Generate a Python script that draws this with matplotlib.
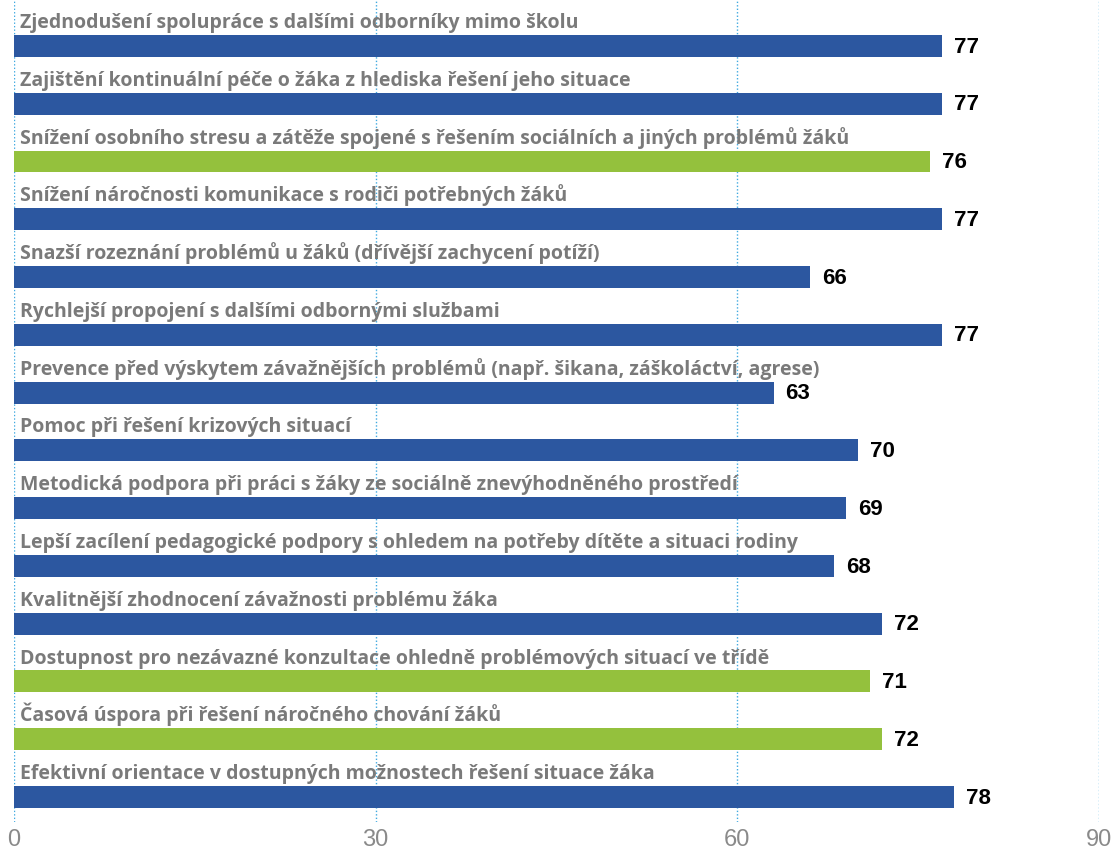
import numpy as np
import matplotlib.pyplot as plt

# Data
labels = [
    "Zjednodušení spolupráce s dalšími odborníky mimo školu",
    "Zajištění kontinuální péče o žáka z hlediska řešení jeho situace",
    "Snížení osobního stresu a zátěže spojené s řešením sociálních a jiných problémů žáků",
    "Snížení náročnosti komunikace s rodiči potřebných žáků",
    "Snazší rozeznání problémů u žáků (dřívější zachycení potíží)",
    "Rychlejší propojení s dalšími odbornými službami",
    "Prevence před výskytem závažnějších problémů (např. šikana, záškoláctví, agrese)",
    "Pomoc při řešení krizových situací",
    "Metodická podpora při práci s žáky ze sociálně znevýhodněného prostředí",
    "Lepší zacílení pedagogické podpory s ohledem na potřeby dítěte a situaci rodiny",
    "Kvalitnější zhodnocení závažnosti problému žáka",
    "Dostupnost pro nezávazné konzultace ohledně problémových situací ve třídě",
    "Časová úspora při řešení náročného chování žáků",
    "Efektivní orientace v dostupných možnostech řešení situace žáka",
]
values = [77, 77, 76, 77, 66, 77, 63, 70, 69, 68, 72, 71, 72, 78]
highlight = [False, False, True, False, False, False, False,
             False, False, False, False, True, True, False]

BLUE = "#2c57a0"
GREEN = "#94c13d"
GREY = "#7a7a7a"

fig = plt.figure(figsize=(11.12, 8.52), dpi=100)
ax = fig.add_axes([14 / 1112, 30 / 852, 1085 / 1112, 822 / 852])

y = np.arange(len(values))
colors = [GREEN if h else BLUE for h in highlight]
ax.barh(y, values, height=0.38, color=colors, zorder=2)

# category name above each bar, value to the right
for yi, lab, v in zip(y, labels, values):
    ax.text(0.5, yi - 0.31, lab, ha="left", va="baseline", fontsize=14,
            fontfamily="Open Sans", fontweight="bold", color=GREY, zorder=3)
    ax.text(v + 1.0, yi + 0.02, str(v), ha="left", va="center", fontsize=16,
            fontfamily="Liberation Sans", fontweight="bold", color="black", zorder=3)

ax.set_xlim(0, 90)
ax.set_ylim(13.433, -0.796)
ax.set_xticks([0, 30, 60, 90])
ax.set_yticks([])
ax.tick_params(axis="x", length=0, pad=5, labelsize=17, labelcolor="#8a8a8a")
for t in ax.get_xticklabels():
    t.set_fontfamily("Liberation Sans")

for x in [0, 30, 60, 90]:
    ax.axvline(x, color="#3fa9e0", linestyle=(0, (1, 1.5)), linewidth=1, zorder=1)

for s in ax.spines.values():
    s.set_visible(False)

fig.savefig("out.png", dpi=100)
